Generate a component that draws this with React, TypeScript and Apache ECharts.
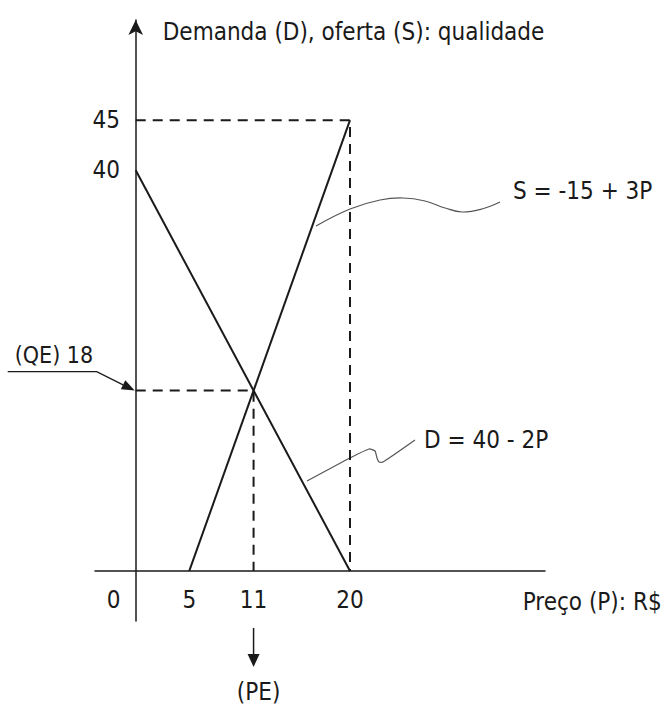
import React, { useEffect, useRef } from "react";
import * as echarts from "echarts";

// Market for a good: demand D = 40 - 2P, supply S = -15 + 3P
const demandPrice = [0, 20];
const demandQty = [40, 0];
const supplyPrice = [5, 20];
const supplyQty = [0, 45];

// Equilibrium point
const eqPrice = 11;
const eqQty = 18;

// Guide box reaching the supply value at P = 20
const boxPrice = 20;
const boxQty = 45;

// Tick labels on each axis
const priceTicks = [5, 11, 20];
const qtyTicks = [40, 45];

const FONT = '"DejaVu Sans Condensed", "Liberation Sans Narrow", "DejaVu Sans", sans-serif';
const INK = "#1a1a1a";
const FS = 24;

const pairs = (xs: number[], ys: number[]) => xs.map((x, i) => [x, ys[i]]);

export default function App() {
  const ref = useRef<HTMLDivElement>(null);

  useEffect(() => {
    document.body.style.margin = "0";
    const chart = echarts.init(ref.current!, null, { renderer: "svg" });

    const dashed = { color: INK, width: 2, type: [10, 7] as any };
    const solid = { color: INK, width: 2 };

    chart.setOption({
      animation: false,
      backgroundColor: "#ffffff",
      grid: { left: 95, right: 121, top: 20, bottom: 90, containLabel: false },
      xAxis: {
        type: "value",
        min: -3.8,
        max: 38.2,
        axisLine: { onZero: true, lineStyle: { color: INK, width: 1.5 } },
        axisTick: { show: false },
        splitLine: { show: false },
        axisLabel: {
          customValues: priceTicks,
          margin: -33,
          fontSize: FS,
          fontFamily: FONT,
          color: INK,
        },
      },
      yAxis: {
        type: "value",
        min: -5,
        max: 55,
        axisLine: {
          onZero: true,
          symbol: ["none", "arrow"],
          symbolSize: [11, 15],
          lineStyle: { color: INK, width: 1.5 },
        },
        axisTick: { show: false },
        splitLine: { show: false },
        axisLabel: {
          customValues: qtyTicks,
          margin: -25,
          fontSize: FS,
          fontFamily: FONT,
          color: INK,
        },
      },
      series: [
        {
          type: "line",
          symbol: "none",
          data: [
            [0, boxQty],
            [boxPrice, boxQty],
            [boxPrice, 0],
          ],
          lineStyle: dashed,
        },
        {
          type: "line",
          symbol: "none",
          data: [
            [0, eqQty],
            [eqPrice, eqQty],
            [eqPrice, 0],
          ],
          lineStyle: dashed,
        },
        {
          name: "D",
          type: "line",
          symbol: "none",
          data: pairs(demandPrice, demandQty),
          lineStyle: solid,
        },
        {
          name: "S",
          type: "line",
          symbol: "none",
          data: pairs(supplyPrice, supplyQty),
          lineStyle: solid,
        },
      ],
    });

    const o = chart.convertToPixel({ gridIndex: 0 }, [0, 0]) as number[];
    const q = chart.convertToPixel({ gridIndex: 0 }, [0, eqQty]) as number[];
    const pe = chart.convertToPixel({ gridIndex: 0 }, [eqPrice, 0]) as number[];

    const text = (t: string, x: number, y: number, align = "left", size = FS) => ({
      type: "text",
      x,
      y,
      style: {
        text: t,
        fontSize: size,
        fontFamily: FONT,
        fill: INK,
        align,
        verticalAlign: "middle",
      },
    });

    // arrow toward the QE tick on the vertical axis
    const tip = [q[0] - 1, q[1]];
    const start = [q[0] - 39, q[1] - 19];
    const dx = tip[0] - start[0];
    const dy = tip[1] - start[1];
    const len = Math.hypot(dx, dy);
    const ux = dx / len;
    const uy = dy / len;
    const base = [tip[0] - 13 * ux, tip[1] - 13 * uy];
    const head = [
      tip,
      [base[0] - 5 * uy, base[1] + 5 * ux],
      [base[0] + 5 * uy, base[1] - 5 * ux],
    ];

    const leader = { stroke: "#555", lineWidth: 1.2, fill: "none" };

    chart.setOption({
      graphic: [
        text("Demanda (D), oferta (S): qualidade", o[0] + 27, 32),
        text("Preço (P): R$", o[0] + 387, o[1] + 31),
        text("0", o[0] - 22, o[1] + 29, "center"),
        text("(QE) 18", q[0] - 121, q[1] - 36, "left", 23),
        text("(PE)", pe[0] + 5, pe[1] + 121, "center"),
        text("S = -15 + 3P", 513, 191),
        text("D = 40 - 2P", 424, 440),
        {
          type: "polyline",
          shape: { points: [[q[0] - 128, q[1] - 19], start, base] },
          style: { stroke: INK, lineWidth: 1.3, fill: "none" },
        },
        { type: "polygon", shape: { points: head }, style: { fill: INK } },
        {
          type: "line",
          shape: { x1: pe[0], y1: pe[1] + 57, x2: pe[0], y2: pe[1] + 84 },
          style: { stroke: INK, lineWidth: 1.5 },
        },
        {
          type: "polygon",
          shape: {
            points: [
              [pe[0] - 6, pe[1] + 83],
              [pe[0] + 6, pe[1] + 83],
              [pe[0], pe[1] + 96],
            ],
          },
          style: { fill: INK },
        },
        {
          type: "polyline",
          shape: {
            smooth: 0.4,
            points: [
              [316, 226],
              [350, 209],
              [380, 200],
              [403, 198],
              [425, 201],
              [445, 208],
              [462, 212],
              [482, 209],
              [500, 202],
            ],
          },
          style: leader,
        },
        {
          type: "polyline",
          shape: {
            smooth: 0.2,
            points: [
              [307, 481],
              [350, 458],
              [369, 449],
              [375, 451],
              [377, 458],
              [379, 462],
              [383, 462],
              [415, 440],
            ],
          },
          style: leader,
        },
      ],
    });

    return () => chart.dispose();
  }, []);

  return <div ref={ref} style={{ width: 666, height: 711 }} />;
}
